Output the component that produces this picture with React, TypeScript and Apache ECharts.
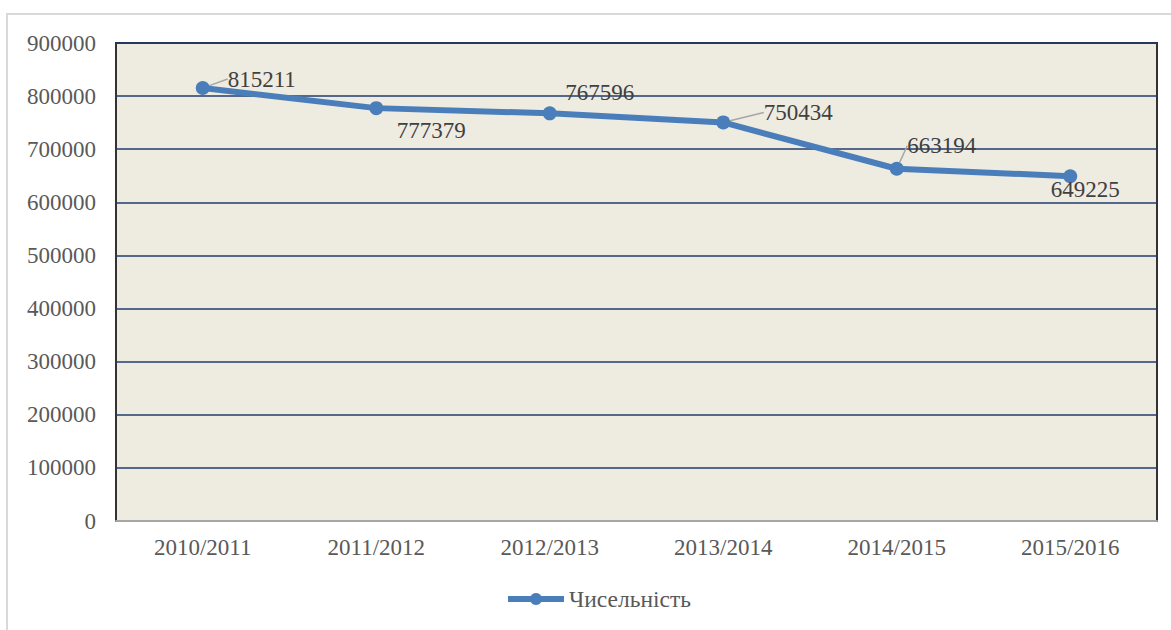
import React, { useEffect, useRef } from "react";
import * as echarts from "echarts";

const categories = ["2010/2011", "2011/2012", "2012/2013", "2013/2014", "2014/2015", "2015/2016"];
const values = [815211, 777379, 767596, 750434, 663194, 649225];
const seriesName = "Чисельність";
const yMax = 900000;
const yInterval = 100000;
// label offsets (dx, dy) relative to the point, and whether a leader line is shown
const labelOffsets = [
  [59, -9],
  [55, 22],
  [50, -21],
  [75, -10],
  [45, -23],
  [15, 13],
];
const showLeader = [true, false, false, true, true, false];

const FONT = "Liberation Serif";

export default function App() {
  const ref = useRef<HTMLDivElement>(null);
  useEffect(() => {
    if (!ref.current) return;
    const chart = echarts.init(ref.current, undefined, { renderer: "svg" });
    chart.setOption({
      animation: false,
      backgroundColor: "#ffffff",
      textStyle: { fontFamily: FONT },
      graphic: [
        {
          type: "rect",
          shape: { x: 7, y: 14, width: 1180, height: 640 },
          style: { fill: "none", stroke: "#D9D9D9", lineWidth: 2 },
          silent: true,
          z: -10,
        },
      ],
      grid: {
        left: 116,
        top: 43,
        right: 14,
        bottom: 109,
        show: true,
        backgroundColor: "#EEEBE0",
        borderColor: "#333333",
        borderWidth: 2,
      },
      legend: {
        bottom: 14,
        left: 500,
        itemWidth: 56,
        itemHeight: 15,
        itemGap: 4,
        lineStyle: { width: 6 },
        textStyle: { fontFamily: FONT, fontSize: 23.5, color: "#595959" },
        data: [seriesName],
      },
      xAxis: {
        type: "category",
        data: categories,
        boundaryGap: true,
        axisLine: { show: true, lineStyle: { color: "#A6A6A6", width: 2 } },
        axisTick: { show: false },
        axisLabel: { fontFamily: FONT, fontSize: 23, color: "#595959", margin: 15 },
        splitLine: { show: false },
      },
      yAxis: {
        type: "value",
        min: 0,
        max: yMax,
        interval: yInterval,
        axisLine: { show: false },
        axisTick: { show: false },
        axisLabel: {
          fontFamily: FONT,
          fontSize: 23,
          color: "#595959",
          margin: 20,
          formatter: (v: number) => String(v),
        },
        splitLine: { show: true, lineStyle: { color: "#1F3D6E", width: 1.5 } },
      },
      series: [
        {
          name: seriesName,
          type: "line",
          data: values.map((v, i) => ({
            value: v,
            labelLine: { show: showLeader[i] },
          })),
          symbol: "circle",
          symbolSize: 14,
          lineStyle: { color: "#4A7EBB", width: 6 },
          itemStyle: { color: "#4A7EBB" },
          label: {
            show: true,
            position: "inside",
            fontFamily: FONT,
            fontSize: 23,
            color: "#404040",
          },
          labelLine: { show: true, lineStyle: { color: "#A6A6A6", width: 1.5 } },
          labelLayout: (params: any) => {
            const o = labelOffsets[params.dataIndex] || [0, 0];
            return { dx: o[0], dy: o[1] };
          },
        },
      ],
    });
    return () => chart.dispose();
  }, []);
  return (
    <div
      ref={ref}
      style={{ position: "fixed", left: 0, top: 0, width: 1171, height: 630 }}
    />
  );
}
